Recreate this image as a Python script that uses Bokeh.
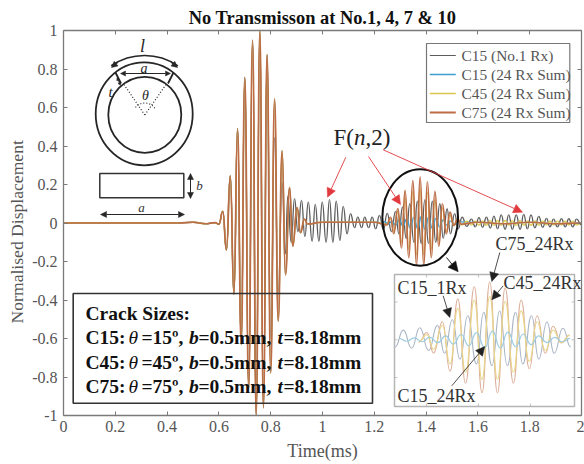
from bokeh.plotting import figure
from bokeh.embed import file_html
from bokeh.resources import INLINE
from bokeh.core.properties import value
from bokeh.models import (Range1d, LinearAxis, FixedTicker, Arrow, NormalHead, ColumnDataSource)

TITLE = "No Transmisson at No.1, 4, 7 & 10"
Y_TITLE = "Normalised Displacement"
X_TICKS = [0, 0.2, 0.4, 0.6, 0.8, 1, 1.2, 1.4, 1.6, 1.8, 2]
X_LABELS = ["0", "0.2", "0.4", "0.6", "0.8", "1", "1.2", "1.4", "1.6", "1.8", "2"]
Y_TICKS = [-1, -0.8, -0.6, -0.4, -0.2, 0, 0.2, 0.4, 0.6, 0.8, 1]
Y_LABELS = ["-1", "-0.8", "-0.6", "-0.4", "-0.2", "0", "0.2", "0.4", "0.6", "0.8", "1"]
SERIES_NAMES = ["C15 (No.1 Rx)", "C15 (24 Rx Sum)", "C45 (24 Rx Sum)", "C75 (24 Rx Sum)"]

# turning points of the signals (time in ms, normalised displacement)
pulse_t = [0, 0.44, 0.50, 0.55, 0.585, 0.60, 0.615, 0.629, 0.644, 0.658, 0.672, 0.686, 0.700, 0.715,
           0.730, 0.744, 0.758, 0.772, 0.786]
pulse_v = [0, 0, 0.004, -0.004, 0.002, -0.006, 0.06, -0.14, 0.245, -0.37, 0.49, -0.63, 0.757, -0.86,
           0.95, -1.0, 1.0, -0.96, 0.875]
decay_t = [0.800, 0.815, 0.829, 0.844, 0.857, 0.873, 0.885, 0.902, 0.915, 0.93, 0.942, 1.0, 1.1, 1.2]
decay_v = [-0.78, 0.645, -0.51, 0.375, -0.27, 0.185, -0.12, 0.08, -0.05, 0.02, -0.005, 0.004, 0.004, 0.004]

c15_1rx_t = [0.786, 0.800, 0.815, 0.829, 0.844, 0.857, 0.866, 0.879, 0.892, 0.905, 0.919, 0.932, 0.945,
             0.960, 0.972, 0.986, 0.999, 1.014, 1.027, 1.040, 1.053, 1.067, 1.080, 1.095, 1.108, 1.124,
             1.136, 1.151, 1.163, 1.178, 1.192, 1.205, 1.220, 1.235, 1.250, 1.266, 1.282, 1.295, 1.309,
             1.323, 1.337, 1.353, 1.366, 1.381, 1.395, 1.409, 1.424, 1.437, 1.453, 1.466, 1.481, 1.494,
             1.510, 1.524, 1.539, 1.557, 1.575, 1.590, 1.604, 1.618, 1.633, 1.648, 1.662, 1.676, 1.690,
             1.705, 1.719, 1.733, 1.748, 1.763, 1.777, 1.791, 1.805, 1.820, 1.835, 1.850, 1.865, 1.878,
             1.892, 1.907, 1.923, 1.937, 1.951, 1.966, 1.981, 2.0]
c15_1rx_v = [0.70, -0.60, 0.445, -0.36, 0.21, -0.16, 0.14, -0.10, 0.126, -0.045, 0.117, -0.07, 0.108,
             -0.095, 0.097, -0.095, 0.108, -0.10, 0.121, -0.10, 0.114, -0.09, 0.086, -0.056, 0.048, -0.024,
             0.031, -0.024, 0.031, -0.024, 0.031, -0.03, 0.04, -0.035, 0.05, -0.045, 0.06, -0.056, 0.083,
             -0.08, 0.10, -0.10, 0.114, -0.107, 0.12, -0.107, 0.114, -0.10, 0.10, -0.08, 0.074, -0.056,
             0.048, -0.03, 0.03, -0.018, 0.02, -0.02, 0.028, -0.022, 0.03, -0.026, 0.036, -0.03, 0.042,
             -0.033, 0.042, -0.033, 0.042, -0.033, 0.045, -0.03, 0.042, -0.025, 0.034, -0.022, 0.024, -0.02,
             0.02, -0.02, 0.022, -0.02, 0.022, -0.02, 0.02, -0.01]

c15_sum_t = [1.212, 1.226, 1.240, 1.254, 1.268, 1.283, 1.297, 1.311, 1.325, 1.339, 1.353, 1.368, 1.382,
             1.396, 1.410, 1.424, 1.438, 1.452, 1.466, 1.481, 1.495, 1.509, 1.523, 1.60, 1.70, 1.80, 1.90, 2.0]
c15_sum_v = [0.006, -0.006, 0.008, -0.008, 0.010, -0.012, 0.016, -0.018, 0.022, -0.025, 0.030, -0.032, 0.036,
             -0.034, 0.032, -0.028, 0.024, -0.02, 0.016, -0.012, 0.010, -0.008, 0.006, 0.003, -0.003, 0.003, -0.003, 0]

c45_t = [1.248, 1.263, 1.275, 1.291, 1.305, 1.319, 1.333, 1.349, 1.363, 1.377, 1.391, 1.405, 1.420, 1.434,
         1.449, 1.463, 1.478, 1.492, 1.507, 1.522, 1.539, 1.557, 1.575, 1.590, 1.604, 1.618, 1.633, 1.648,
         1.662, 1.676, 1.690, 1.705, 1.719, 1.733, 1.748, 1.763, 1.777, 1.791, 1.805, 1.820, 1.835, 1.850,
         1.865, 1.878, 1.892, 1.907, 1.923, 1.937, 1.951, 1.966, 1.981, 2.0]
c45_v = [-0.008, 0.022, -0.04, 0.06, -0.10, 0.13, -0.135, 0.165, -0.165, 0.18, -0.165, 0.16, -0.135, 0.12,
         -0.09, 0.075, -0.045, 0.04, -0.012, 0.018, -0.01, 0.009, -0.01, 0.01, -0.011, 0.011, -0.012, 0.012,
         -0.012, 0.013, -0.012, 0.013, -0.012, 0.012, -0.013, 0.012, -0.012, 0.011, -0.012, 0.011, -0.011, 0.01,
         -0.01, 0.01, -0.01, 0.01, -0.01, 0.01, -0.01, 0.01, -0.01, 0]

c75_t = [1.248, 1.263, 1.275, 1.291, 1.305, 1.319, 1.333, 1.349, 1.363, 1.377, 1.391, 1.405, 1.420, 1.434,
         1.449, 1.463, 1.478, 1.492, 1.507, 1.522, 1.535, 1.60, 1.70, 1.80, 1.90, 2.0]
c75_v = [-0.01, 0.03, -0.055, 0.075, -0.13, 0.17, -0.18, 0.22, -0.22, 0.24, -0.22, 0.215, -0.18, 0.165,
         -0.12, 0.10, -0.056, 0.056, -0.013, 0.02, -0.006, 0.004, -0.004, 0.004, -0.004, 0]

# layout constants (pixel positions of the reference page)
FL, FR, FT, FB = 63.0, 581.0, 30.0, 415.0
IL, IR, IT, IB = 394.0, 574.0, 274.0, 406.0
SERIF = "Liberation Serif"


def X(px):
    return (px - FL) / (FR - FL) * 2


def Y(py):
    return 1 - (py - FT) / (FB - FT) * 2


p = figure(width=584, height=464, x_range=Range1d(0, 2), y_range=Range1d(-1, 1),
           frame_width=518, frame_height=385, min_border_left=63, min_border_right=3,
           min_border_top=30, min_border_bottom=49, output_backend="svg", toolbar_location=None,
           tools="", x_axis_type=None, y_axis_type=None, background_fill_color="white",
           title=TITLE)
p.title.text_font = SERIF
p.title.text_font_size = "18.4px"
p.title.text_font_style = "bold"
p.title.text_color = "#111111"
p.title.align = "center"
p.title.offset = 0
p.title.standoff = 5
p.grid.visible = False
p.outline_line_color = None

GRAY = "#7a7a7a"
TXT = "#555555"


def style_axis(ax):
    ax.axis_line_color = GRAY
    ax.axis_line_width = 1.3
    ax.major_tick_line_color = GRAY
    ax.major_tick_in = 4
    ax.major_tick_out = 0
    ax.minor_tick_line_color = None
    ax.major_label_text_font = SERIF
    ax.major_label_text_font_size = "16px"
    ax.major_label_text_color = TXT


bx = LinearAxis(ticker=FixedTicker(ticks=X_TICKS), major_label_overrides=dict(zip(X_TICKS, X_LABELS)),
                axis_label="Time(ms)", axis_label_text_font=SERIF, axis_label_text_font_size="18px",
                axis_label_text_font_style="normal", axis_label_text_color=TXT,
                axis_label_standoff=6, major_label_standoff=5)
ly = LinearAxis(ticker=FixedTicker(ticks=Y_TICKS), major_label_overrides=dict(zip(Y_TICKS, Y_LABELS)),
                axis_label=Y_TITLE + "\u00a0\u00a0\u00a0\u00a0", axis_label_text_font=SERIF,
                axis_label_text_font_size="17.6px", axis_label_text_font_style="normal",
                axis_label_text_color=TXT, axis_label_standoff=2, major_label_standoff=6)
tx = LinearAxis(ticker=FixedTicker(ticks=X_TICKS), major_label_overrides={t: "" for t in X_TICKS},
                major_label_standoff=0)
ry = LinearAxis(ticker=FixedTicker(ticks=Y_TICKS), major_label_overrides={t: "" for t in Y_TICKS},
                major_label_standoff=0)
for a in (bx, ly, tx, ry):
    style_axis(a)
p.add_layout(bx, "below")
p.add_layout(ly, "left")
p.add_layout(tx, "above")
p.add_layout(ry, "right")


def curve(ts, vs, color, width, inset=False, lo=None, hi=None):
    """Draws a signal through its turning points, with rounded crests."""
    pts = [(t, v) for t, v in zip(ts, vs) if lo is None or lo <= t <= hi]
    x = [a[0] for a in pts]
    y = [a[1] for a in pts]
    mid = [(a + b) / 2 for a, b in zip(x[:-1], x[1:])]
    src = ColumnDataSource(dict(x0=x[:-1], y0=y[:-1], x1=x[1:], y1=y[1:], cx0=mid, cy0=y[:-1], cx1=mid, cy1=y[1:]))
    kw = dict(x_range_name="inset", y_range_name="inset") if inset else {}
    return p.bezier(x0="x0", y0="y0", x1="x1", y1="y1", cx0="cx0", cy0="cy0", cx1="cx1", cy1="cy1",
                    source=src, line_color=color, line_width=width, **kw)


def text(px, py, s, size, color="#222222", style="normal", align="left"):
    p.text(x=[X(px)], y=[Y(py)], text=[s], text_font=value(SERIF), text_font_size=f"{size}px",
           text_color=color, text_font_style=style, text_align=align, text_baseline="middle")


def arrow(x0, y0, x1, y1, color="#111111", size=9, width=1.0, both=False):
    head = lambda: NormalHead(size=size, fill_color=color, line_color=color, line_width=0.5)
    p.add_layout(Arrow(x_start=X(x0), y_start=Y(y0), x_end=X(x1), y_end=Y(y1), end=head(),
                       start=head() if both else None, line_color=color, line_width=width))


def seg(x0, y0, x1, y1, color="#222222", width=1.6, dash="solid"):
    p.line([X(x0), X(x1)], [Y(y0), Y(y1)], line_color=color, line_width=width, line_dash=dash)


# main traces
COLORS = ["#5c5c5c", "#3f9ecf", "#d8c64e", "#bd6c45"]
KEY_WIDTHS = [1.0, 1.6, 1.6, 1.8]
curve(pulse_t + c15_1rx_t[1:], pulse_v + c15_1rx_v[1:], COLORS[0], 1.3)
curve(pulse_t + decay_t + c15_sum_t, pulse_v + decay_v + c15_sum_v, COLORS[1], 1.2)
curve(pulse_t + decay_t + c45_t, pulse_v + decay_v + c45_v, COLORS[2], 1.4)
curve(pulse_t + decay_t + c75_t, pulse_v + decay_v + c75_v, COLORS[3], 1.7)

# legend box
p.quad(left=[X(426)], right=[X(569.3)], top=[Y(43)], bottom=[Y(122)], fill_color="white",
       line_color="#777777", line_width=1.2)
for k, name in enumerate(SERIES_NAMES):
    row = 55 + k * 19
    seg(429.3, row, 455.3, row, COLORS[k], KEY_WIDTHS[k])
    text(461, row, name, 15.4, TXT)

# pipe cross section sketch
DARK = "#262626"
p.ellipse([X(143.7)], [Y(113.3)], width=97, height=103, width_units="screen", height_units="screen",
          fill_color=None, line_color=DARK, line_width=1.8)
p.ellipse([X(144.3)], [Y(114.3)], width=73, height=76, width_units="screen", height_units="screen",
          fill_color=None, line_color=DARK, line_width=1.8)
seg(115, 72, 120.5, 83, DARK, 1.8)
seg(173, 72, 167.5, 83, DARK, 1.8)
seg(123.5, 84, 144.3, 114.5, DARK, 1.2, "1 2")
seg(165.5, 84, 144.3, 114.5, DARK, 1.2, "1 2")
arrow(120, 73, 170, 73, DARK, size=5, width=1, both=True)
arrow(116.5, 77, 120, 85, DARK, size=3, width=0.8, both=True)
p.arc([X(144)], [Y(114)], radius=59, radius_units="screen", start_angle=0.97, end_angle=2.17,
      line_color=DARK, line_width=1.6)
arrow(117, 62, 111, 67, DARK, size=6, width=1.2)
arrow(171, 62, 177, 67, DARK, size=6, width=1.2)
p.arc([X(144.3)], [Y(114.5)], radius=12, radius_units="screen", start_angle=0.6, end_angle=2.54,
      line_color=DARK, line_width=1.2, line_dash="1 2")
text(142, 45, "l", 18, DARK, "italic", "center")
text(143.5, 68, "a", 14, DARK, "italic", "center")
text(145, 94.5, "θ", 14, DARK, "italic", "center")
text(110, 91, "t", 15, DARK, "italic", "center")

# rectangular crack face sketch
p.quad(left=[X(99.3)], right=[X(183.3)], top=[Y(173)], bottom=[Y(197.3)], fill_color=None,
       line_color="#333333", line_width=1.5)
arrow(190, 174, 190, 198, DARK, size=6, width=1)
arrow(190, 197, 190, 173, DARK, size=6, width=1)
text(199, 185, "b", 13, "#333333", "italic", "center")
arrow(100, 214, 184, 214, DARK, size=6, width=1, both=True)
text(141, 207, "a", 13, "#333333", "italic", "center")

# crack size box
p.quad(left=[X(72.7)], right=[X(372)], top=[Y(293)], bottom=[Y(402.7)], fill_color=None,
       line_color="#333333", line_width=1.6)
BOLD = "bold"
FS = 19.5
text(85, 312.5, "Crack Sizes:", FS, "#111111", BOLD)
for py, name, deg in ((337, "C15:", "=15º,"), (361.5, "C45:", "=45º,"), (385.5, "C75:", "=75º,")):
    text(85, py, name, FS, "#111111", BOLD)
    text(128, py, "θ", FS, "#111111", "italic")
    text(141, py, deg, FS, "#111111", BOLD)
    text(188.5, py, "b", FS, "#111111", "bold italic")
    text(198, py, "=0.5mm,", FS, "#111111", BOLD)
    text(277, py, "t", FS, "#111111", "bold italic")
    text(283, py, "=8.18mm", FS, "#111111", BOLD)

# F(n,2) callout
text(333, 137, "F(", 23, "#222222")
text(353.5, 137, "n", 23, "#222222", "italic")
text(365, 137, ",2)", 23, "#222222")
RED = "#e0393e"
arrow(345.3, 156.7, 327, 196.7, RED, size=9, width=0.9)
arrow(368, 156, 400, 204, RED, size=9, width=0.9)
arrow(382.7, 149.3, 522, 211.7, RED, size=9, width=0.9)

# ring round the wave packet
p.ellipse([X(419.7)], [Y(217)], width=75.7, height=96.3, width_units="screen", height_units="screen",
          fill_color=None, line_color="#111111", line_width=2)
arrow(446, 257, 457.7, 271.3, "#111111", size=10, width=0.9)

# inset
p.quad(left=[X(IL)], right=[X(IR)], top=[Y(IT)], bottom=[Y(IB)], fill_color="white",
       line_color="#b4b4b4", line_width=1.5)
PX_PER_MS, T_LEFT = 550.46, 1.204
PX_PER_V, ZERO_PY = 241.0, 339.3
T0 = T_LEFT - (IL - FL) / PX_PER_MS
p.extra_x_ranges["inset"] = Range1d(T0, T0 + (FR - FL) / PX_PER_MS)
p.extra_y_ranges["inset"] = Range1d((ZERO_PY - FB) / PX_PER_V, (ZERO_PY - FT) / PX_PER_V)
T_RIGHT = T_LEFT + (IR - IL) / PX_PER_MS

curve(c15_1rx_t, c15_1rx_v, "#a9b4c4", 1.1, True, T_LEFT, T_RIGHT)
curve(c75_t, c75_v, "#dcae9a", 1.1, True, T_LEFT, T_RIGHT)
curve(c45_t, c45_v, "#e8d68a", 1.2, True, T_LEFT, T_RIGHT)
curve(c15_sum_t, c15_sum_v, "#9ccbe0", 1.2, True, T_LEFT, T_RIGHT)
for py in (301.5, 339.3, 377):
    seg(IL, py, IL + 3, py, "#b4b4b4", 0.8)
    seg(IR - 3, py, IR, py, "#b4b4b4", 0.8)
for px in (426, 478, 530):
    seg(px, IB - 3, px, IB, "#b4b4b4", 0.8)
    seg(px, IT, px, IT + 3, "#b4b4b4", 0.8)

LBL = "#333333"
text(397, 287, "C15_1Rx", 18, LBL)
text(495, 243, "C75_24Rx", 18, LBL)
text(503, 282, "C45_24Rx", 18, LBL)
text(397, 395, "C15_24Rx", 18, LBL)
arrow(442.7, 295.3, 449.3, 317, "#222222", size=9, width=0.8)
arrow(499.3, 252, 491.3, 281, "#222222", size=9, width=0.8)
arrow(502.7, 285.3, 491.3, 299.3, "#222222", size=9, width=0.8)
arrow(451.3, 385.3, 484.3, 346, "#222222", size=9, width=0.8)

open("out.html", "w").write(file_html(p, INLINE))
